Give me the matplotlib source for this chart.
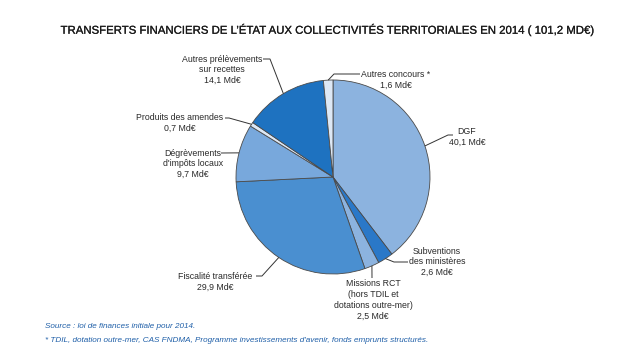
import numpy as np
import matplotlib
matplotlib.use('Agg')
import matplotlib.pyplot as plt
import matplotlib.patheffects as pe

# ─── données ────────────────────────────────────────────────────────
labels = ["DGF", "Subventions\ndes ministères", "Missions RCT\n(hors TDIL et\ndotations outre-mer)",
          "Fiscalité transférée", "Dégrèvements\nd'impôts locaux", "Produits des amendes",
          "Autres prélèvements\nsur recettes", "Autres concours *"]
values = [40.1, 2.6, 2.5, 29.9, 9.7, 0.7, 14.1, 1.6]
value_labels = ["40,1 Md€", "2,6 Md€", "2,5 Md€", "29,9 Md€", "9,7 Md€", "0,7 Md€", "14,1 Md€", "1,6 Md€"]
colors = ["#8cb3df", "#2a78c8", "#8cb3df", "#4a8fd0", "#78a8dc", "#dde8f5", "#1e72c0", "#dde8f5"]

TITLE = "TRANSFERTS FINANCIERS DE L’ÉTAT AUX COLLECTIVITÉS TERRITORIALES EN 2014 ( 101,2 MD€)"
NOTES = ["Source : loi de finances initiale pour 2014.",
         "* TDIL, dotation outre-mer, CAS FNDMA, Programme investissements d'avenir, fonds emprunts structurés."]

# ─── mise en page (pixels, origine en haut à gauche) ────────────────
W, H = 630, 352
CX, CY, R = 333, 177, 97
# position du texte + points de la ligne de rappel (hors point sur le bord)
text_pos = [(467, 137), (437, 262), (373, 300), (215, 282),
            (193, 164), (180, 123), (222, 70), (396, 80)]
leaders = [[(448, 135), (453, 135)],
           [(394, 262), (408, 262)],
           [(372, 278)],
           [(262, 276), (256, 276)],
           [(221, 153)],
           [(229, 118), (225, 118)],
           [(270, 59), (263, 59)],
           [(334, 74), (360, 74)]]

SANS = ['Liberation Sans', 'DejaVu Sans']


def py(y):
    return H - y


fig = plt.figure(figsize=(W / 100, H / 100), dpi=100)
fig.patch.set_facecolor('white')
ax = fig.add_axes([0, 0, 1, 1])

wedges, _ = ax.pie(values, colors=colors, startangle=90, counterclock=False,
                   center=(CX, py(CY)), radius=R, frame=True,
                   wedgeprops=dict(edgecolor='#4a4a4a', linewidth=0.6))
ax.set_xlim(0, W)
ax.set_ylim(0, H)
ax.set_aspect('equal')
ax.axis('off')

for w, lab, val, (tx, ty), pts in zip(wedges, labels, value_labels, text_pos, leaders):
    ang = np.deg2rad((w.theta1 + w.theta2) / 2)
    ex, ey = CX + R * np.cos(ang), py(CY) + R * np.sin(ang)
    xs = [ex] + [p[0] for p in pts]
    ys = [ey] + [py(p[1]) for p in pts]
    ax.plot(xs, ys, color='#333333', lw=0.7, solid_capstyle='butt')
    ax.text(tx, py(ty), lab + "\n" + val, ha='center', va='center', fontsize=6.3,
            color='#2a2a2a', family=SANS, linespacing=1.25)

t = fig.text(326 / W, 1 - 30 / H, TITLE, ha='center', va='center', fontsize=8.2,
             color='#1a1a1a', family=SANS)
t.set_path_effects([pe.withStroke(linewidth=0.15, foreground='#1a1a1a')])
fig.text(45 / W, 1 - 327 / H, NOTES[0], ha='left', va='center', fontsize=5.9,
         color='#1f5fa8', family=SANS, style='italic')
fig.text(45 / W, 1 - 341 / H, NOTES[1], ha='left', va='center', fontsize=5.9,
         color='#1f5fa8', family=SANS, style='italic')

fig.savefig('out.png', dpi=100, facecolor='white')
